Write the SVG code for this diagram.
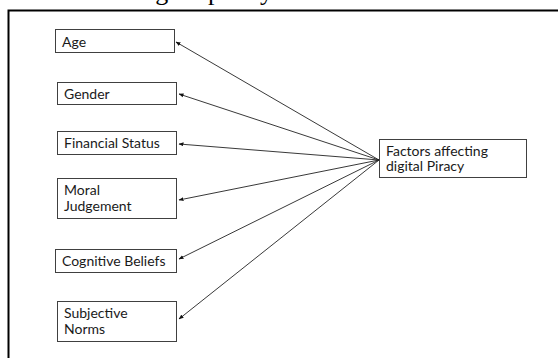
<svg xmlns="http://www.w3.org/2000/svg" width="558" height="358" viewBox="0 0 558 358">
<style>
.box{fill:#fff;stroke:#404040;stroke-width:1}
.lbl{font-family:Lato,"Open Sans","Liberation Sans",sans-serif;font-size:14px;fill:#1a1a1a}
.cap{font-family:"Liberation Serif","Times New Roman",serif;font-size:26px;fill:#000}
.conn line{stroke:#222;stroke-width:0.9;marker-end:url(#ah)}
</style>
<defs>
<marker id="ah" viewBox="0 0 10 10" refX="9" refY="5" markerWidth="5" markerHeight="5" orient="auto" markerUnits="userSpaceOnUse">
<path d="M0,1 L10,5 L0,9 z" fill="#111"/>
</marker>
</defs>
<rect width="558" height="358" fill="#fff"/>
<text class="cap" x="135" y="-0.5">digital piracy</text>
<path d="M8.5,358 V10.5 H558" fill="none" stroke="#000" stroke-width="2"/>
<g id="node-age"><rect class="box" x="55.5" y="29.5" width="119" height="23"/><text class="lbl" x="62" y="46.5">Age</text></g>
<g id="node-gender"><rect class="box" x="57.5" y="82.5" width="119" height="22"/><text class="lbl" x="64" y="98.5">Gender</text></g>
<g id="node-financial"><rect class="box" x="57.5" y="131.5" width="119" height="23"/><text class="lbl" x="64" y="148">Financial Status</text></g>
<g id="node-moral"><rect class="box" x="57.5" y="178.5" width="119" height="40"/><text class="lbl" x="64" y="195">Moral<tspan x="64" dy="16">Judgement</tspan></text></g>
<g id="node-cognitive"><rect class="box" x="55.5" y="249.5" width="121" height="23"/><text class="lbl" x="62" y="266">Cognitive Beliefs</text></g>
<g id="node-subjective"><rect class="box" x="57.5" y="301.5" width="119" height="40"/><text class="lbl" x="64" y="317.5">Subjective<tspan x="64" dy="16">Norms</tspan></text></g>
<g id="node-factors"><rect class="box" x="379.5" y="139.5" width="147" height="38"/><text class="lbl" x="386" y="155.5">Factors affecting<tspan x="386" dy="15.5">digital Piracy</tspan></text></g>
<g class="conn" id="connectors">
<line x1="379" y1="160" x2="176" y2="42"/>
<line x1="379" y1="160" x2="179" y2="94"/>
<line x1="379" y1="160" x2="179" y2="144"/>
<line x1="379" y1="160" x2="179" y2="200"/>
<line x1="379" y1="160" x2="179" y2="259"/>
<line x1="379" y1="160" x2="179" y2="319"/>
</g>
</svg>
